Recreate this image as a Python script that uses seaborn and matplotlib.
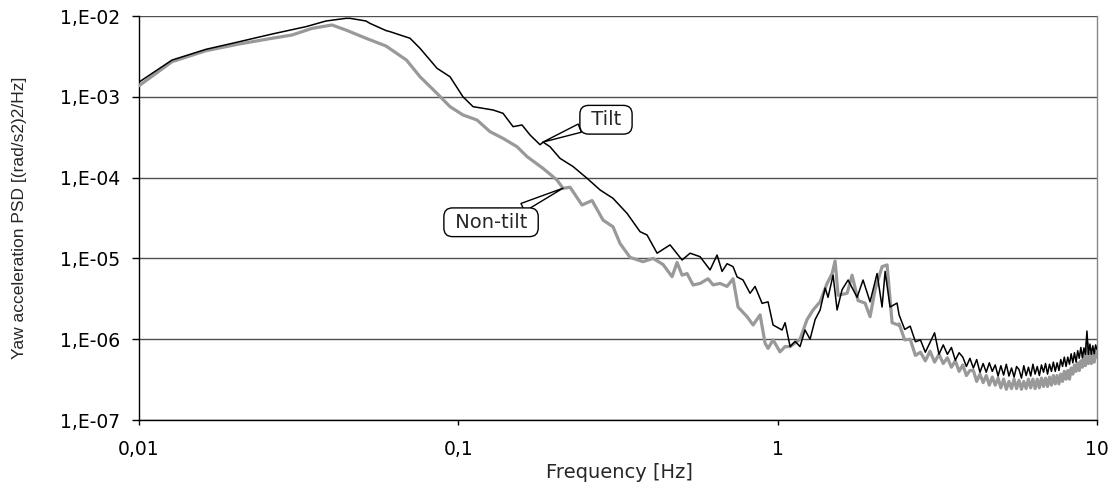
import numpy as np
import pandas as pd
import matplotlib
matplotlib.use("Agg")
import matplotlib.pyplot as plt
import seaborn as sns
from matplotlib.ticker import FixedLocator, FixedFormatter, NullLocator

# ---- data ----
tilt_freq = [0.0100, 0.01269, 0.01621, 0.02057, 0.02610, 0.03334, 0.03851, 0.04448, 0.04579,
             0.05140, 0.05290, 0.05936, 0.06111, 0.07060, 0.07587, 0.08578, 0.09419, 0.1034,
             0.1112, 0.1284, 0.1380, 0.1484, 0.1583, 0.1677, 0.1803, 0.1842, 0.1937, 0.2082,
             0.2287, 0.2530, 0.2779, 0.3051, 0.3375, 0.3708, 0.3899, 0.4192, 0.4603, 0.5020,
             0.5317, 0.5715, 0.6142, 0.6460, 0.6697, 0.6943, 0.7250, 0.7464, 0.7791, 0.8195,
             0.8496, 0.8937, 0.9331, 0.9674, 1.032, 1.055, 1.094, 1.134, 1.175, 1.218, 1.263,
             1.310, 1.358, 1.408, 1.438, 1.491, 1.535, 1.591, 1.662, 1.773, 1.851, 1.947, 2.048,
             2.123, 2.170, 2.249, 2.365]
tilt_psd = [1.52e-3, 2.85e-3, 3.87e-3, 4.8e-3, 5.98e-3, 7.38e-3, 8.67e-3, 9.36e-3, 9.36e-3,
            8.67e-3, 8.1e-3, 6.6e-3, 6.4e-3, 5.3e-3, 3.98e-3, 2.25e-3, 1.77e-3, 1.0e-3,
            7.55e-4, 6.87e-4, 6.25e-4, 4.27e-4, 4.48e-4, 3.37e-4, 2.55e-4, 2.75e-4, 2.41e-4, 1.73e-4,
            1.37e-4, 9.8e-5, 7.03e-5, 5.54e-5, 3.61e-5, 2.14e-5, 1.95e-5, 1.16e-5, 1.47e-5, 9.55e-6,
            1.16e-5, 1.05e-5, 7.2e-6, 1.1e-5, 6.9e-6, 8.6e-6, 7.9e-6, 5.9e-6, 5.4e-6, 3.7e-6,
            4.5e-6, 2.78e-6, 2.9e-6, 1.5e-6, 1.3e-6, 1.6e-6, 8.1e-7, 9.4e-7, 8.1e-7, 1.3e-6, 1.0e-6,
            1.75e-6, 2.3e-6, 4.3e-6, 3.3e-6, 6.2e-6, 2.3e-6, 4.1e-6, 5.4e-6, 3.3e-6, 5.4e-6, 2.9e-6, 6.5e-6,
            2.5e-6, 6.9e-6, 2.5e-6, 2.8e-6]

nontilt_freq = [0.0100, 0.01269, 0.01621, 0.02057, 0.02610, 0.03015, 0.03482, 0.04022, 0.04448,
                0.05140, 0.05936, 0.0688, 0.07587, 0.08578, 0.09419, 0.1034, 0.1144, 0.1257,
                0.1380, 0.1527, 0.1641, 0.1842, 0.2037, 0.2128, 0.2238, 0.2440, 0.2623, 0.2839,
                0.3051, 0.3209, 0.3449, 0.3788, 0.4073, 0.4377, 0.4670, 0.4842, 0.5020, 0.5203,
                0.5433, 0.5715, 0.6054, 0.6277, 0.6601, 0.6943, 0.7250, 0.7516, 0.8019, 0.8375,
                0.8810, 0.9133, 0.9331, 0.9674, 1.017, 1.055, 1.094, 1.175, 1.236, 1.291, 1.358,
                1.428, 1.481, 1.513, 1.546, 1.650, 1.710, 1.786, 1.878, 1.947, 2.019, 2.123, 2.201,
                2.282, 2.383]
nontilt_psd = [1.37e-3, 2.72e-3, 3.72e-3, 4.5e-3, 5.3e-3, 5.82e-3, 7.03e-3, 7.74e-3, 6.7e-3,
               5.3e-3, 4.25e-3, 2.85e-3, 1.77e-3, 1.1e-3, 7.55e-4, 5.96e-4, 5.16e-4, 3.7e-4,
               3.06e-4, 2.41e-4, 1.82e-4, 1.3e-4, 9.33e-5, 7.36e-5, 7.6e-5, 4.58e-5, 5.2e-5, 2.98e-5,
               2.46e-5, 1.53e-5, 1.03e-5, 9.1e-6, 1.0e-5, 8.4e-6, 5.94e-6, 8.9e-6, 6.2e-6, 6.5e-6,
               4.69e-6, 4.9e-6, 5.6e-6, 4.7e-6, 4.9e-6, 4.5e-6, 5.6e-6, 2.5e-6, 1.9e-6, 1.5e-6,
               2.0e-6, 8.9e-7, 7.7e-7, 9.8e-7, 6.97e-7, 8.1e-7, 8.1e-7, 1.0e-6, 1.75e-6, 2.3e-6, 2.9e-6,
               4.9e-6, 6.5e-6, 9.3e-6, 3.5e-6, 3.7e-6, 6.2e-6, 3.0e-6, 2.8e-6, 1.9e-6, 4.1e-6, 7.9e-6, 8.3e-6,
               1.6e-6, 1.5e-6]

# noisy high-frequency tail (shared frequency grid)
tail_freq = [2.4, 2.5, 2.6, 2.7, 2.8, 2.9, 3.0, 3.1, 3.2, 3.3, 3.4, 3.5, 3.6, 3.7, 3.8, 3.9,
             4.0, 4.1, 4.2, 4.3, 4.4, 4.5, 4.6, 4.7, 4.8, 4.9, 5.0, 5.1, 5.2, 5.3, 5.4, 5.5,
             5.6, 5.7, 5.8, 5.9, 6.0, 6.1, 6.2, 6.3, 6.4, 6.5, 6.6, 6.7, 6.8, 6.9, 7.0, 7.1,
             7.2, 7.3, 7.4, 7.5, 7.6, 7.7, 7.8, 7.9, 8.0, 8.1, 8.2, 8.3, 8.4, 8.5, 8.6, 8.7,
             8.8, 8.9, 9.0, 9.1, 9.2, 9.3, 9.4, 9.5, 9.6, 9.7, 9.8, 9.9, 10.0]
tilt_tail = [2.0e-6, 1.32e-6, 1.45e-6, 9.3e-7, 9.8e-7, 6.9e-7, 9.1e-7, 1.2e-6, 6.5e-7, 8.5e-7,
             6.5e-7, 7.9e-7, 5.5e-7, 6.8e-7, 6.0e-7, 4.6e-7, 5.8e-7, 4.4e-7, 5.6e-7, 3.9e-7,
             5.0e-7, 3.9e-7, 5.1e-7, 4.0e-7, 4.8e-7, 3.5e-7, 4.7e-7, 3.6e-7, 4.9e-7, 3.5e-7,
             4.4e-7, 3.4e-7, 4.6e-7, 4.2e-7, 3.3e-7, 4.7e-7, 3.55e-7, 4.5e-7, 3.5e-7, 4.9e-7,
             3.7e-7, 4.6e-7, 3.55e-7, 4.8e-7, 3.9e-7, 5.0e-7, 3.7e-7, 4.9e-7, 4.0e-7, 5.2e-7,
             4.0e-7, 5.1e-7, 4.1e-7, 5.6e-7, 4.6e-7, 6.0e-7, 4.6e-7, 6.0e-7, 4.9e-7, 6.6e-7,
             5.1e-7, 6.8e-7, 5.2e-7, 7.2e-7, 5.8e-7, 7.9e-7, 5.9e-7, 7.8e-7, 6.5e-7, 1.26e-6,
             6.5e-7, 8.7e-7, 6.5e-7, 8.3e-7, 6.6e-7, 8.5e-7, 7.4e-7]
nontilt_tail = [1.55e-6, 9.8e-7, 1.0e-6, 6.3e-7, 6.9e-7, 5.4e-7, 7.1e-7, 5.2e-7, 6.5e-7, 5.0e-7,
                5.9e-7, 4.5e-7, 5.4e-7, 4.0e-7, 4.8e-7, 3.55e-7, 4.1e-7, 4.1e-7, 3.0e-7, 3.7e-7,
                2.9e-7, 3.55e-7, 2.7e-7, 3.4e-7, 2.7e-7, 3.3e-7, 2.5e-7, 3.2e-7, 2.4e-7, 3.0e-7,
                2.45e-7, 3.2e-7, 2.45e-7, 3.1e-7, 2.4e-7, 3.0e-7, 2.45e-7, 3.2e-7, 2.5e-7, 3.2e-7,
                2.45e-7, 3.2e-7, 2.5e-7, 3.3e-7, 2.6e-7, 3.3e-7, 2.6e-7, 3.4e-7, 2.7e-7, 3.55e-7,
                2.8e-7, 3.55e-7, 2.8e-7, 3.7e-7, 3.0e-7, 4.0e-7, 3.2e-7, 4.1e-7, 3.2e-7, 4.4e-7,
                3.7e-7, 4.8e-7, 4.0e-7, 5.1e-7, 4.1e-7, 5.4e-7, 4.5e-7, 6.8e-7, 4.7e-7, 9.0e-7,
                5.0e-7, 6.6e-7, 5.0e-7, 6.6e-7, 5.2e-7, 6.9e-7, 6.0e-7]

x_ticks = [0.01, 0.1, 1, 10]
x_tick_labels = ["0,01", "0,1", "1", "10"]
y_ticks = [1e-7, 1e-6, 1e-5, 1e-4, 1e-3, 1e-2]
y_tick_labels = ["1,E-07", "1,E-06", "1,E-05", "1,E-04", "1,E-03", "1,E-02"]

x_label = "Frequency [Hz]"
y_label = "Yaw acceleration PSD [(rad/s2)2/Hz]"

# ---- plotting ----
sns.set_style("white")
plt.rcParams['font.family'] = ['DejaVu Sans']

fig = plt.figure(figsize=(11.15, 4.91), dpi=100)
ax = fig.add_axes([139 / 1115, 1 - 420 / 491, (1097 - 139) / 1115, (420 - 16) / 491])

df_t = pd.DataFrame({"f": tilt_freq + tail_freq, "psd": tilt_psd + tilt_tail})
df_n = pd.DataFrame({"f": nontilt_freq + tail_freq, "psd": nontilt_psd + nontilt_tail})

sns.lineplot(data=df_n, x="f", y="psd", ax=ax, color="#999999", lw=2.3,
             estimator=None, sort=False, zorder=3)
sns.lineplot(data=df_t, x="f", y="psd", ax=ax, color="black", lw=1.1,
             estimator=None, sort=False, zorder=4)

ax.set_xscale("log")
ax.set_yscale("log")
ax.set_xlim(0.01, 10)
ax.set_ylim(1e-7, 1e-2)

ax.xaxis.set_major_locator(FixedLocator(x_ticks))
ax.xaxis.set_major_formatter(FixedFormatter(x_tick_labels))
ax.xaxis.set_minor_locator(NullLocator())
ax.yaxis.set_major_locator(FixedLocator(y_ticks))
ax.yaxis.set_major_formatter(FixedFormatter(y_tick_labels))
ax.yaxis.set_minor_locator(NullLocator())

ax.grid(True, axis="y", color="#505050", lw=1.0, zorder=1)
ax.grid(False, axis="x")
ax.set_axisbelow(True)

for s in ["left", "bottom"]:
    ax.spines[s].set_color("black")
    ax.spines[s].set_linewidth(1.0)
ax.spines["top"].set_visible(False)
ax.spines["right"].set_color("#888888")
ax.spines["right"].set_linewidth(1.0)

ax.tick_params(axis="x", which="major", direction="out", length=3.6, width=1,
               color="black", labelsize=13.5, labelcolor="black", bottom=True, pad=11)
ax.tick_params(axis="y", which="major", direction="out", length=5, width=1,
               color="black", labelsize=13.5, labelcolor="black", left=True, pad=8.5)

ax.set_xlabel(x_label, fontsize=14)
ax.xaxis.set_label_coords(0.501, -0.106)
ax.set_ylabel(y_label, fontsize=12.5, family=["Liberation Sans", "DejaVu Sans"])
ax.yaxis.set_label_coords(-0.117, 0.5)

bbox = dict(boxstyle="round,pad=0.25,rounding_size=0.45", fc="white", ec="black", lw=1.0)
ax.annotate(" Tilt ", xy=(0.184, 2.75e-4), xytext=(0.290, 5.2e-4),
            fontsize=14, ha="center", va="center", bbox=bbox, zorder=6,
            arrowprops=dict(arrowstyle="wedge,tail_width=0.45", fc="white", ec="black",
                            lw=1.0, relpos=(0.05, 0.2), shrinkA=0, shrinkB=0))
ax.annotate(" Non-tilt ", xy=(0.2128, 7.4e-5), xytext=(0.1266, 2.8e-5),
            fontsize=14, ha="center", va="center", bbox=bbox, zorder=6,
            arrowprops=dict(arrowstyle="wedge,tail_width=0.45", fc="white", ec="black",
                            lw=1.0, relpos=(0.72, 0.95), shrinkA=0, shrinkB=0))

fig.savefig("out.png", dpi=100)
